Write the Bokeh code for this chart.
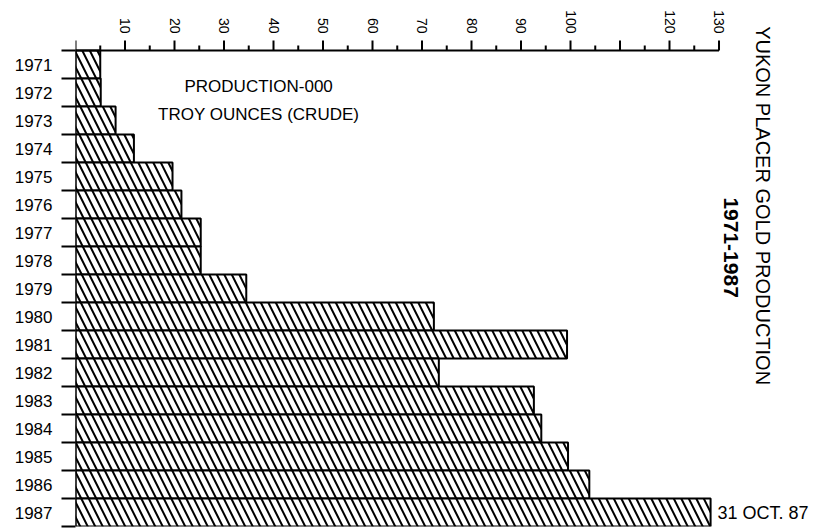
import math
from bokeh.plotting import figure
from bokeh.models import Range1d, FixedTicker, Label, ColumnDataSource
from bokeh.embed import file_html
from bokeh.resources import INLINE

# ---- data ----
years = list(range(1971, 1988))
production = [5.0, 5.1, 8.1, 11.8, 19.6, 21.4, 25.3, 25.3, 34.5,
              72.4, 99.3, 73.4, 92.6, 94.1, 99.5, 103.8, 128.3]
x_ticks = [0, 10, 20, 30, 40, 50, 60, 70, 80, 90, 100, 110, 120, 130]
x_minor_ticks = [5, 15, 25, 35, 45, 55, 65, 75, 85, 95, 105, 115, 125]
x_tick_labels = ["", "10", "20", "30", "40", "50", "60", "70", "80", "90",
                 "100", "", "120", "130"]
year_boundaries = [y - 0.5 for y in years] + [years[-1] + 0.5]
panel_lines = ["PRODUCTION-000", "TROY OUNCES (CRUDE)"]
title_text = "YUKON PLACER GOLD PRODUCTION"
subtitle_text = "1971-1987"
note_text = "31 OCT. 87"

FONT = "Liberation Sans"

W, H = 818, 528
ROW_PX = 28.0
BOTTOM_BORDER = 2
frame_h = H - BOTTOM_BORDER
top_rows = frame_h / ROW_PX - len(years)          # rows of space above the axis line
axis_y = years[0] - 0.5                            # data y of the top axis line
bottom_y = years[-1] + 0.5

p = figure(width=W, height=H, output_backend="svg", toolbar_location=None,
           x_axis_location=None,
           x_range=Range1d(0, 150.1),
           y_range=Range1d(bottom_y, axis_y - top_rows),
           min_border_left=75, min_border_right=0, min_border_top=0,
           min_border_bottom=BOTTOM_BORDER)
p.outline_line_color = None
p.grid.visible = False
p.background_fill_color = "white"
p.border_fill_color = "white"

src = ColumnDataSource(dict(y=years, right=production, left=[0] * len(years)))
p.hbar(y="y", left="left", right="right", height=1.0, source=src,
       fill_color="white", line_color="black", line_width=2,
       hatch_pattern="\\", hatch_color="black", hatch_scale=15, hatch_weight=2)

# ---- top value axis (drawn from the tick arrays) ----
p.segment(x0=[x_ticks[0]], y0=[axis_y], x1=[x_ticks[-1]], y1=[axis_y],
          line_color="black", line_width=2)
p.ray(x=x_ticks, y=[axis_y] * len(x_ticks), length=10, length_units="screen",
      angle=math.pi / 2, line_color="black", line_width=2)
p.ray(x=x_minor_ticks, y=[axis_y] * len(x_minor_ticks), length=5, length_units="screen",
      angle=math.pi / 2, line_color="black", line_width=2)
p.text(x=x_ticks, y=[axis_y] * len(x_ticks), text=x_tick_labels,
       angle=-math.pi / 2, text_align="right", text_baseline="middle",
       y_offset=-17, text_font={"value": FONT}, text_font_size={"value": "14px"},
       text_color="black")

# vertical base line
p.segment(x0=[0], y0=[bottom_y], x1=[0], y1=[axis_y], line_color="black", line_width=2)

# left year axis
ya = p.yaxis[0]
ya.ticker = FixedTicker(ticks=years, minor_ticks=year_boundaries)
ya.major_label_text_font = FONT
ya.major_label_text_font_size = "17px"
ya.major_label_text_color = "black"
ya.major_tick_out = 0
ya.major_tick_in = 0
ya.minor_tick_out = 14
ya.minor_tick_in = 0
ya.minor_tick_line_width = 2
ya.axis_line_color = None
ya.major_label_standoff = 9

for i, line in enumerate(panel_lines):
    p.add_layout(Label(x=37.0, y=years[0] + 0.79 + i, text=line,
                       text_font=FONT, text_font_size="17px",
                       text_align="center", text_baseline="middle",
                       text_color="black"))

p.add_layout(Label(x=138.8, y=1976.04, text=title_text, angle=-math.pi / 2,
                   text_font=FONT, text_font_size="20px",
                   text_align="center", text_baseline="middle", text_color="black"))
p.add_layout(Label(x=132.5, y=1977.54, text=subtitle_text, angle=-math.pi / 2,
                   text_font=FONT, text_font_size="21px", text_font_style="bold",
                   text_align="center", text_baseline="middle", text_color="black"))
p.add_layout(Label(x=production[-1] + 1.4, y=years[-1], text=note_text,
                   text_font=FONT, text_font_size="18px",
                   text_align="left", text_baseline="middle", text_color="black"))

open("out.html", "w").write(file_html(p, INLINE))
